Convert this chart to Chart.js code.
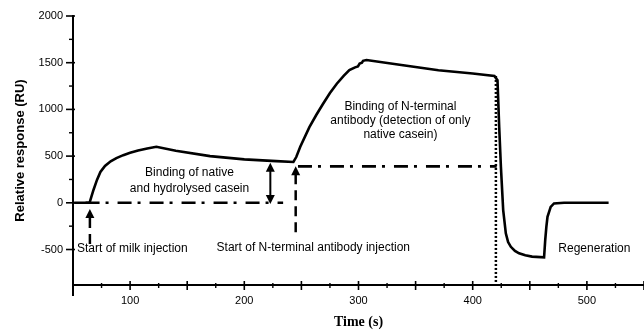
<!DOCTYPE html>
<html>
<head>
<meta charset="utf-8">
<script src="https://cdn.jsdelivr.net/npm/chart.js@4/dist/chart.umd.min.js"></script>
<style>
  html, body { margin: 0; padding: 0; background: #fff; }
  #wrap { width: 644px; height: 331px; }
</style>
</head>
<body>
<div id="wrap"><canvas id="sprChart"></canvas></div>
<script>
// sensorgram, time in s / response in RU
var times = [51, 58, 64.5, 66, 68, 71, 74, 78, 83, 88, 94, 100, 107, 115, 123,
  140, 170, 200, 228, 243,
  245.5, 249, 257, 263, 269, 275, 281, 287, 292, 297, 299.5, 301, 303, 304, 307,
  336, 370, 400, 419,
  421.7, 423.2, 424.7, 426.7, 429, 431, 433.4, 437, 440.6, 446, 452, 462.5,
  463.5, 464.5, 465.5, 468.3, 471.2, 480, 519];
var response = [0, 0, 0, 60, 140, 245, 330, 395, 445, 478, 510, 535, 560, 582, 600,
  557, 500, 465, 446, 437,
  490, 600, 810, 940, 1060, 1175, 1275, 1360, 1420, 1450, 1460, 1490, 1500, 1520, 1528,
  1478, 1420, 1385, 1358,
  1312, 813, 385, -78, -327, -420, -471, -515, -541, -562, -576, -584,
  -400, -257, -150, -43, -7, 0, 0];

// dash-dot reference levels
var baseTimes = [61, 234];
var baseLevel = [0, 0];
var antibodyTimes = [247, 421];
var antibodyLevel = [390, 390];

var xTicks = [100, 200, 300, 400, 500];
var yTicks = [-500, 0, 500, 1000, 1500, 2000];

function pts(xs, ys) {
  return xs.map(function (x, i) { return { x: x, y: ys[i] }; });
}

// arrows, dotted line and text, placed in data units
var notes = {
  arrows: [
    { t: 64.8, from: -440, to: -65, dash: [11, 6] },
    { t: 245, from: -350, to: 392, dash: [10, 6] }
  ],
  doubleArrow: { t: 222.8, from: -14, to: 428 },
  dotted: { t: 420.3, from: 1358, to: -860 },
  labels: [
    { t: 152, v: 321, text: 'Binding of native', align: 'center' },
    { t: 152, v: 154, text: 'and hydrolysed casein', align: 'center' },
    { t: 336.7, v: 1034, text: 'Binding of N-terminal', align: 'center' },
    { t: 336.7, v: 877, text: 'antibody (detection of only', align: 'center' },
    { t: 336.7, v: 724, text: 'native casein)', align: 'center' },
    { t: 53.5, v: -488, text: 'Start of milk injection', align: 'left' },
    { t: 175.7, v: -478, text: 'Start of N-terminal antibody injection', align: 'left' },
    { t: 475, v: -495, text: 'Regeneration', align: 'left' }
  ]
};

function arrowHead(ctx, x, y, dir) {
  ctx.beginPath();
  ctx.moveTo(x, y);
  ctx.lineTo(x - 4.5, y + dir * 9);
  ctx.lineTo(x + 4.5, y + dir * 9);
  ctx.closePath();
  ctx.fill();
}

function line(ctx, x1, y1, x2, y2) {
  ctx.beginPath();
  ctx.moveTo(x1, y1);
  ctx.lineTo(x2, y2);
  ctx.stroke();
}

var notePlugin = {
  id: 'notes',
  afterDatasetsDraw: function (chart) {
    var ctx = chart.ctx, xs = chart.scales.x, ys = chart.scales.y;
    ctx.save();
    ctx.strokeStyle = '#000';
    ctx.fillStyle = '#000';

    // dotted line at regeneration start
    var d = notes.dotted;
    ctx.lineWidth = 2.5;
    ctx.setLineDash([2, 2]);
    line(ctx, xs.getPixelForValue(d.t), ys.getPixelForValue(d.from),
      xs.getPixelForValue(d.t), ys.getPixelForValue(d.to));

    // injection arrows with dashed stems
    notes.arrows.forEach(function (a) {
      var x = xs.getPixelForValue(a.t);
      var yTip = ys.getPixelForValue(a.to);
      ctx.setLineDash(a.dash);
      ctx.lineWidth = 2.5;
      line(ctx, x, yTip + 8, x, ys.getPixelForValue(a.from));
      ctx.setLineDash([]);
      arrowHead(ctx, x, yTip, 1);
    });

    // double arrow for the first binding level
    var b = notes.doubleArrow;
    var bx = xs.getPixelForValue(b.t);
    var yBot = ys.getPixelForValue(b.from), yTop = ys.getPixelForValue(b.to);
    ctx.setLineDash([]);
    ctx.lineWidth = 2;
    line(ctx, bx, yTop + 8, bx, yBot - 8);
    arrowHead(ctx, bx, yTop, 1);
    arrowHead(ctx, bx, yBot, -1);

    ctx.font = '12px "Liberation Sans", Arial, sans-serif';
    ctx.textBaseline = 'middle';
    notes.labels.forEach(function (l) {
      ctx.textAlign = l.align;
      ctx.fillText(l.text, xs.getPixelForValue(l.t), ys.getPixelForValue(l.v));
    });
    ctx.restore();
  },
  // tick marks crossing the axes, longer on the labelled steps
  afterDraw: function (chart) {
    var ctx = chart.ctx, xs = chart.scales.x, ys = chart.scales.y;
    var a = chart.chartArea;
    ctx.save();
    ctx.strokeStyle = '#000';
    xs.ticks.forEach(function (t) {
      var px = xs.getPixelForValue(t.value);
      var major = t.value % 50 === 0;
      ctx.lineWidth = major ? 1.6 : 1.4;
      line(ctx, px, a.bottom - (major ? 4 : 2), px, a.bottom + (major ? 5 : 3));
    });
    // axis foot below the corner
    ctx.lineWidth = 2;
    line(ctx, a.left, a.bottom, a.left, a.bottom + 11);
    ys.ticks.forEach(function (t) {
      var py = ys.getPixelForValue(t.value);
      var major = t.value % 500 === 0;
      ctx.lineWidth = major ? 1.6 : 1.4;
      line(ctx, a.left - (major ? 7 : 4), py, a.left + (major ? 2 : 1), py);
    });
    ctx.restore();
  }
};

var tickFont = { family: '"Liberation Sans", Arial, sans-serif', size: 11 };

var ctx = document.getElementById('sprChart').getContext('2d');
var myChart = new Chart(ctx, {
  type: 'line',
  data: {
    datasets: [{
      label: 'Response',
      data: pts(times, response),
      borderColor: '#000',
      borderWidth: 2.6,
      pointRadius: 0,
      tension: 0
    }, {
      label: 'Baseline',
      data: pts(baseTimes, baseLevel),
      borderColor: '#000',
      borderWidth: 2.6,
      borderDash: [14, 6, 3, 9],
      pointRadius: 0
    }, {
      label: 'Antibody level',
      data: pts(antibodyTimes, antibodyLevel),
      borderColor: '#000',
      borderWidth: 2.6,
      borderDash: [14, 6, 3, 9],
      pointRadius: 0
    }]
  },
  options: {
    responsive: true,
    maintainAspectRatio: false,
    animation: false,
    layout: { padding: { top: 16, left: 0, right: 0, bottom: 0 } },
    plugins: {
      legend: { display: false },
      tooltip: { enabled: false }
    },
    scales: {
      x: {
        type: 'linear',
        min: 50,
        max: 550,
        afterFit: function (s) {
          s.height = 46;
          s.paddingLeft = 0;
          s.paddingRight = 0;
        },
        border: { color: '#000', width: 2 },
        grid: { drawOnChartArea: false, drawTicks: false },
        ticks: {
          stepSize: 25,
          autoSkip: false,
          maxRotation: 0,
          padding: 9,
          color: '#000',
          font: tickFont,
          callback: function (v) { return xTicks.indexOf(v) >= 0 ? v : ''; }
        },
        title: {
          display: true,
          text: 'Time (s)',
          color: '#000',
          font: { family: '"Liberation Serif", "Times New Roman", serif', size: 14, weight: 'bold' },
          padding: { top: 0, bottom: 0 }
        }
      },
      y: {
        min: -880,
        max: 2000,
        afterFit: function (s) {
          s.width = 73;
          s.paddingTop = 0;
          s.paddingBottom = 0;
        },
        afterBuildTicks: function (s) {
          s.ticks = s.ticks.filter(function (t) { return t.value % 250 === 0; });
        },
        border: { color: '#000', width: 2 },
        grid: { drawOnChartArea: false, drawTicks: false },
        ticks: {
          stepSize: 250,
          padding: 10,
          color: '#000',
          font: tickFont,
          callback: function (v) { return yTicks.indexOf(v) >= 0 ? v : ''; }
        },
        title: {
          display: true,
          text: 'Relative response (RU)',
          color: '#000',
          font: { family: '"Liberation Sans", Arial, sans-serif', size: 13, weight: 'bold' },
          padding: { top: 13, bottom: 0 }
        }
      }
    }
  },
  plugins: [notePlugin]
});
</script>
</body>
</html>
